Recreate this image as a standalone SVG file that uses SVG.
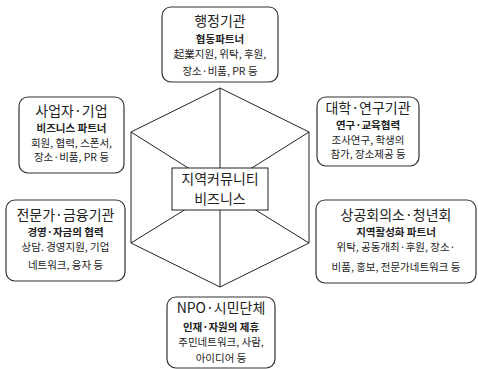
<svg xmlns="http://www.w3.org/2000/svg" width="478" height="369" viewBox="0 0 478 369">
<style>
.box{fill:#fff;stroke:#333;stroke-width:1.2}
.t{font-family:"Noto Sans CJK KR","Noto Sans",sans-serif;text-anchor:middle;fill:#222}
.h{font-size:14px}
.b{font-size:10.5px;font-weight:bold}
.d{font-size:10.5px}
.ln{stroke:#222;stroke-width:1;fill:none}
</style>
<rect width="478" height="369" fill="#fff"/>
<g id="connectors">
<polygon class="ln" points="220,88 309,132 309,243 220,287 131,243 131,132"/>
<line class="ln" x1="220" y1="188" x2="220" y2="88"/>
<line class="ln" x1="220" y1="188" x2="309" y2="132"/>
<line class="ln" x1="220" y1="188" x2="309" y2="243"/>
<line class="ln" x1="220" y1="188" x2="220" y2="287"/>
<line class="ln" x1="220" y1="188" x2="131" y2="243"/>
<line class="ln" x1="220" y1="188" x2="131" y2="132"/>
</g>
<g id="center">
<rect x="172" y="168" width="96" height="42" fill="#fff" stroke="#222" stroke-width="1"/>
<text class="t" x="220" y="184" font-size="14">지역커뮤니티</text>
<text class="t" x="220" y="204" font-size="14">비즈니스</text>
</g>
<g id="gov">
<rect class="box" x="162" y="7" width="116" height="75" rx="9"/>
<text class="t h" x="220" y="26">행정기관</text>
<text class="t b" x="220" y="43">협동파트너</text>
<text class="t d" x="220" y="58">起業지원, 위탁, 후원,</text>
<text class="t d" x="220" y="75">장소·비품, PR 등</text>
</g>
<g id="biz">
<rect class="box" x="19" y="97" width="105" height="76" rx="9"/>
<text class="t h" x="71.5" y="116">사업자·기업</text>
<text class="t b" x="71.5" y="132">비즈니스 파트너</text>
<text class="t d" x="71.5" y="147">회원, 협력, 스폰서,</text>
<text class="t d" x="71.5" y="161">장소·비품, PR 등</text>
</g>
<g id="univ">
<rect class="box" x="317" y="97" width="102" height="69" rx="9"/>
<text class="t h" x="368" y="113">대학·연구기관</text>
<text class="t b" x="368" y="129">연구·교육협력</text>
<text class="t d" x="368" y="144">조사연구, 학생의</text>
<text class="t d" x="368" y="158">참가, 장소제공 등</text>
</g>
<g id="finance">
<rect class="box" x="6" y="200" width="119" height="81" rx="9"/>
<text class="t h" x="65.5" y="220">전문가·금융기관</text>
<text class="t b" x="65.5" y="236">경영·자금의 협력</text>
<text class="t d" x="65.5" y="251">상담. 경영지원, 기업</text>
<text class="t d" x="65.5" y="269">네트워크, 융자 등</text>
</g>
<g id="chamber">
<rect class="box" x="316" y="200" width="160" height="83" rx="9"/>
<text class="t h" x="396" y="220">상공회의소·청년회</text>
<text class="t b" x="396" y="236">지역활성화 파트너</text>
<text class="t d" x="396" y="251">위탁, 공동개최·후원, 장소·</text>
<text class="t d" x="396" y="271">비품, 홍보, 전문가네트워크 등</text>
</g>
<g id="npo">
<rect class="box" x="167" y="297" width="108" height="71" rx="9"/>
<text class="t h" x="221" y="313">NPO·시민단체</text>
<text class="t b" x="221" y="331">인재·자원의 제휴</text>
<text class="t d" x="221" y="346">주민네트워크, 사람,</text>
<text class="t d" x="221" y="362">아이디어 등</text>
</g>
</svg>
